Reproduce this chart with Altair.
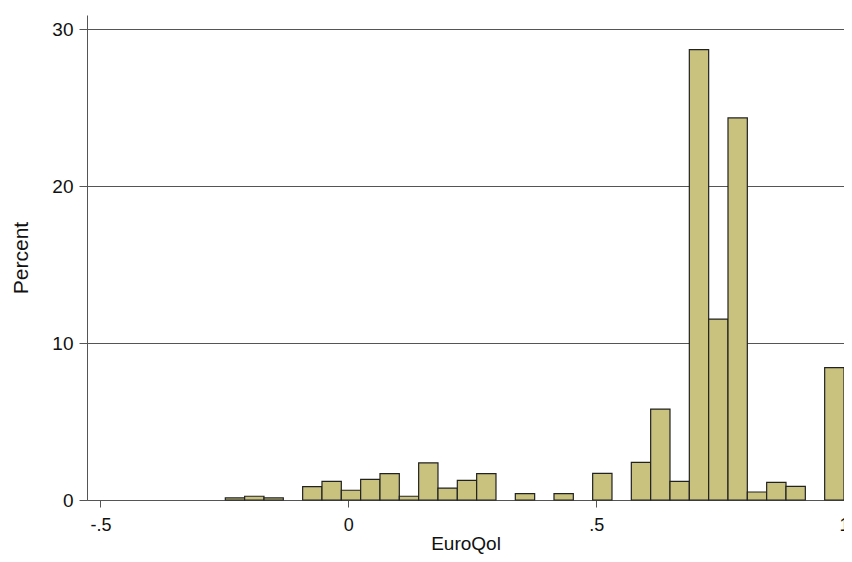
import altair as alt
import pandas as pd

# bin lower edges (EuroQol), bin width 0.039
bin_lo = [-0.248, -0.209, -0.170, -0.131, -0.092, -0.053, -0.014, 0.025,
          0.064, 0.103, 0.142, 0.181, 0.220, 0.259, 0.298, 0.337,
          0.376, 0.415, 0.454, 0.493, 0.532, 0.571, 0.610, 0.649,
          0.688, 0.727, 0.766, 0.805, 0.844, 0.883, 0.922, 0.961]
bin_width = 0.039
percent = [0.13, 0.24, 0.13, 0.0, 0.85, 1.19, 0.62, 1.32,
           1.68, 0.24, 2.37, 0.76, 1.25, 1.68, 0.0, 0.41,
           0.0, 0.41, 0.0, 1.70, 0.0, 2.40, 5.79, 1.19,
           28.69, 11.53, 24.34, 0.51, 1.12, 0.87, 0.0, 8.44]

x_ticks = [-0.5, 0, 0.5, 1]
x_tick_labels = ["-.5", "0", ".5", "1"]
y_ticks = [0, 10, 20, 30]

df = pd.DataFrame({
    "lo": bin_lo,
    "hi": [b + bin_width for b in bin_lo],
    "pct": percent,
})
df = df[df["pct"] > 0]

label_expr = " : ".join(
    [f"datum.value == {v} ? '{l}'" for v, l in zip(x_ticks, x_tick_labels)]
) + " : datum.label"

FONT = "Liberation Sans"

chart = alt.Chart(df).mark_rect(
    fill="#C9C27F", stroke="#222222", strokeWidth=1.2
).encode(
    x=alt.X("lo:Q",
            scale=alt.Scale(domain=[-0.527, 1.0], nice=False, zero=False),
            axis=alt.Axis(values=x_ticks, labelExpr=label_expr, title="EuroQol",
                          grid=False, domainColor="#555555", tickColor="#555555",
                          tickSize=7, labelPadding=9, titlePadding=0,
                          labelFontSize=18, titleFontSize=19, labelFont=FONT,
                          titleFont=FONT, titleFontWeight="normal",
                          labelColor="#111111", titleColor="#111111",
                          labelFlush=False)),
    x2="hi:Q",
    y=alt.Y("pct:Q",
            scale=alt.Scale(domain=[0, 30.9], nice=False),
            axis=alt.Axis(values=y_ticks, title="Percent", grid=True,
                          gridColor="#555555", gridWidth=1.2,
                          domainColor="#555555", tickColor="#555555",
                          tickSize=8, labelPadding=6,
                          titleX=-66, titleBaseline="middle",
                          labelFontSize=19, titleFontSize=21, labelFont=FONT,
                          titleFont=FONT, titleFontWeight="normal",
                          labelColor="#111111", titleColor="#111111")),
    y2=alt.datum(0),
).properties(
    width=757, height=485,
    autosize=alt.AutoSizeParams(type="none"),
    padding={"left": 79, "top": 7, "right": 0, "bottom": 54},
).configure_view(stroke=None)

chart.save("out.html", embed_options={"renderer": "svg", "actions": False})
